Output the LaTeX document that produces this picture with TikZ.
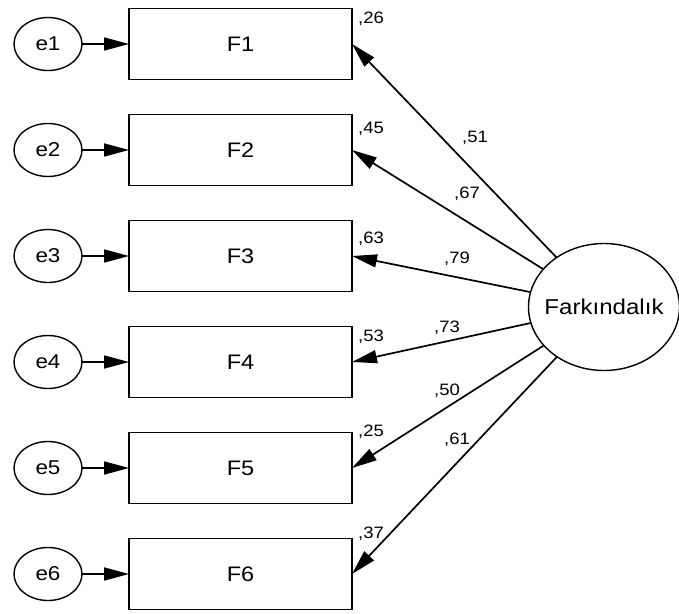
\documentclass[tikz,border=0pt]{standalone}
\usepackage{fontspec}
\setmainfont{Liberation Sans}[FakeStretch=1.12]
\usepackage{tikz}
\usetikzlibrary{positioning,arrows.meta,shapes.geometric}

\tikzset{
  obsbox/.style={draw, line width=1.8pt, minimum width=223pt, minimum height=71pt, inner sep=0pt, outer sep=0pt, font=\fontsize{21}{24}\selectfont},
  errnode/.style={draw, ellipse, line width=1.4pt, minimum width=68pt, minimum height=53pt, inner sep=0pt, outer sep=0pt, font=\fontsize{20}{23}\selectfont},
  latnode/.style={draw, ellipse, line width=1.4pt, minimum width=151pt, minimum height=127pt, inner sep=0pt, outer sep=0pt, font=\fontsize{21.5}{24}\selectfont},
  load/.style={line width=1.7pt, -{Triangle[length=25pt,width=13pt]}},
  val/.style={inner sep=0pt, text depth=0pt, font=\fontsize{16.5}{19}\selectfont}
}

\begin{document}
\begin{tikzpicture}[x=1pt,y=-1pt]
\useasboundingbox (0,0) rectangle (679,613);
% observed variables
\node[obsbox] (f1) at (240.5,44) {F1}; \node[obsbox, below=35pt of f1] (f2) {F2}; \node[obsbox, below=35pt of f2] (f3) {F3};
\node[obsbox, below=35pt of f3] (f4) {F4}; \node[obsbox, below=35pt of f4] (f5) {F5}; \node[obsbox, below=35pt of f5] (f6) {F6};
% error terms
\node[errnode, left=47pt of f1] (e1) {e1}; \node[errnode, left=47pt of f2] (e2) {e2}; \node[errnode, left=47pt of f3] (e3) {e3};
\node[errnode, left=47pt of f4] (e4) {e4}; \node[errnode, left=47pt of f5] (e5) {e5}; \node[errnode, left=47pt of f6] (e6) {e6};
% latent factor
\node[latnode] (fark) at (604,307) {\makebox[0pt]{Farkındalık}};
\draw[load] (e1) -- (f1); \draw[load] (e2) -- (f2); \draw[load] (e3) -- (f3);
\draw[load] (e4) -- (f4); \draw[load] (e5) -- (f5); \draw[load] (e6) -- (f6);
\draw[load] (fark) -- (f1.east); \draw[load] (fark) -- (f2.east); \draw[load] (fark) -- (f3.east);
\draw[load] (fark) -- (f4.east); \draw[load] (fark) -- (f5.east); \draw[load] (fark) -- (f6.east);
% squared multiple correlations
\node[val] (r1) at (371,18) {,26}; \node[val] (r2) at (371,128) {,45}; \node[val] (r3) at (371,238) {,63};
\node[val] (r4) at (371,336) {,53}; \node[val] (r5) at (371,431) {,25}; \node[val] (r6) at (371,533) {,37};
% loadings
\node[val] (w1) at (475,137) {,51}; \node[val] (w2) at (467,193) {,67}; \node[val] (w3) at (457,258) {,79};
\node[val] (w4) at (447,327) {,73}; \node[val] (w5) at (447,390) {,50}; \node[val] (w6) at (457,439) {,61};
\end{tikzpicture}
\end{document}
